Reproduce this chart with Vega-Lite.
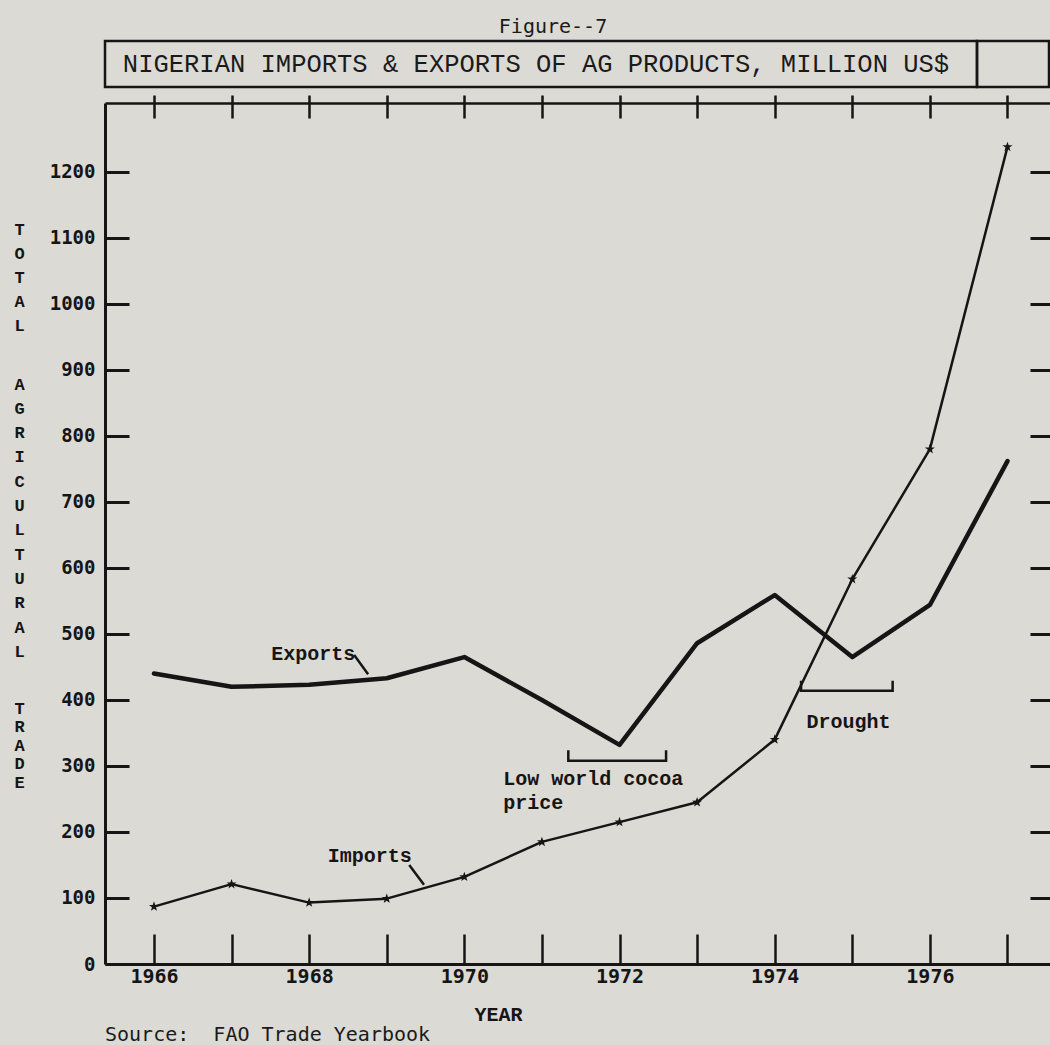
{
  "$schema": "https://vega.github.io/schema/vega-lite/v6.json",
  "background": "#dbdad5",
  "padding": {"left": 13, "top": 15, "right": 0, "bottom": 0},
  "bounds": "full",
  "spacing": 4,
  "config": {
    "view": {"stroke": null},
    "axis": {"grid": false, "labelOverlap": false, "labelFlush": false}
  },
  "datasets": {
    "series": [
      {"series": "Exports", "year": 1966, "value": 440},
      {"series": "Exports", "year": 1967, "value": 420},
      {"series": "Exports", "year": 1968, "value": 423},
      {"series": "Exports", "year": 1969, "value": 433},
      {"series": "Exports", "year": 1970, "value": 465},
      {"series": "Exports", "year": 1971, "value": 400},
      {"series": "Exports", "year": 1972, "value": 332},
      {"series": "Exports", "year": 1973, "value": 486},
      {"series": "Exports", "year": 1974, "value": 559},
      {"series": "Exports", "year": 1975, "value": 465},
      {"series": "Exports", "year": 1976, "value": 544},
      {"series": "Exports", "year": 1977, "value": 762},
      {"series": "Imports", "year": 1966, "value": 87},
      {"series": "Imports", "year": 1967, "value": 121},
      {"series": "Imports", "year": 1968, "value": 93},
      {"series": "Imports", "year": 1969, "value": 99},
      {"series": "Imports", "year": 1970, "value": 132},
      {"series": "Imports", "year": 1971, "value": 185},
      {"series": "Imports", "year": 1972, "value": 215},
      {"series": "Imports", "year": 1973, "value": 245},
      {"series": "Imports", "year": 1974, "value": 340},
      {"series": "Imports", "year": 1975, "value": 583},
      {"series": "Imports", "year": 1976, "value": 780},
      {"series": "Imports", "year": 1977, "value": 1238}
    ],
    "annotLines": [
      {"id": "exLead", "k": 0, "year": 1968.58, "value": 468},
      {"id": "exLead", "k": 1, "year": 1968.76, "value": 439},
      {"id": "imLead", "k": 0, "year": 1969.29, "value": 150},
      {"id": "imLead", "k": 1, "year": 1969.48, "value": 120},
      {"id": "cocoa", "k": 0, "year": 1971.34, "value": 324},
      {"id": "cocoa", "k": 1, "year": 1971.34, "value": 308},
      {"id": "cocoa", "k": 2, "year": 1972.6, "value": 308},
      {"id": "cocoa", "k": 3, "year": 1972.6, "value": 324},
      {"id": "drought", "k": 0, "year": 1974.34, "value": 429},
      {"id": "drought", "k": 1, "year": 1974.34, "value": 414},
      {"id": "drought", "k": 2, "year": 1975.52, "value": 414},
      {"id": "drought", "k": 3, "year": 1975.52, "value": 429}
    ],
    "annotText": [
      {"label": "Exports", "year": 1967.51, "value": 461},
      {"label": "Imports", "year": 1968.24, "value": 155},
      {"label": "Low world cocoa", "year": 1970.5, "value": 271},
      {"label": "price", "year": 1970.5, "value": 235},
      {"label": "Drought", "year": 1974.41, "value": 358}
    ]
  },
  "vconcat": [
    {
      "bounds": "flush",
      "spacing": 0,
      "hconcat": [
        {
          "width": 872,
          "height": 46,
          "view": {"stroke": "#161616", "strokeWidth": 2.5},
          "title": {"text": "Figure--7", "anchor": "middle", "dx": 12, "offset": 4, "font": "DejaVu Sans Mono", "fontSize": 20, "fontWeight": "normal", "color": "#1a1a1a"},
          "data": {"values": [{"t": "NIGERIAN IMPORTS & EXPORTS OF AG PRODUCTS, MILLION US$"}]},
          "mark": {"type": "text", "font": "Liberation Mono", "fontSize": 25.5, "color": "#1a1a1a", "align": "center", "baseline": "middle", "dx": -5},
          "encoding": {"text": {"field": "t", "type": "nominal"}}
        },
        {
          "width": 72,
          "height": 46,
          "view": {"stroke": "#161616", "strokeWidth": 2.5},
          "data": {"values": [{"t": "box"}]},
          "mark": {"type": "rect", "fillOpacity": 0, "strokeOpacity": 0},
          "encoding": {}
        }
      ]
    },
    {
      "width": 945,
      "height": 861,
      "title": {"text": "Source:\u00a0 FAO Trade Yearbook", "orient": "bottom", "anchor": "start", "frame": "group", "offset": 1, "font": "DejaVu Sans Mono", "fontSize": 20, "fontWeight": "normal", "color": "#1a1a1a", "baseline": "top"},
      "resolve": {"axis": {"x": "independent", "y": "independent"}},
      "layer": [
        {
          "data": {"name": "series"},
          "transform": [{"filter": "datum.series === 'Exports'"}],
          "mark": {"type": "line", "color": "#151515", "strokeWidth": 4.5, "strokeCap": "round", "strokeJoin": "round"},
          "encoding": {
            "x": {"field": "year", "type": "quantitative", "scale": {"domain": [1965.369, 1977.548], "nice": false, "zero": false},
              "axis": {"orient": "top", "values": [1966,1967,1968,1969,1970,1971,1972,1973,1974,1975,1976,1977], "labels": false, "tickSize": 8, "tickWidth": 2.5, "tickColor": "#151515", "domainWidth": 2.5, "domainColor": "#151515", "title": null}},
            "y": {"field": "value", "type": "quantitative", "scale": {"domain": [0, 1304.5], "nice": false},
              "axis": {"orient": "left", "values": [0,100,200,300,400,500,600,700,800,900,1000,1100,1200], "format": "d", "tickSize": -24, "tickWidth": 3, "tickColor": "#151515", "domainWidth": 3, "domainColor": "#151515", "labelPadding": 34, "labelFont": "DejaVu Sans Mono", "labelFontSize": 19, "labelFontWeight": "bold", "labelColor": "#151515",
                "title": ["T","O","T","A","L"],
                "titleAngle": 0, "titleAlign": "center", "titleBaseline": "top", "titleX": -86, "titleY": 118, "titleLineHeight": 24, "titleFont": "Liberation Mono", "titleFontSize": 17, "titleFontWeight": "bold", "titleColor": "#151515"}}
          }
        },
        {
          "data": {"name": "series"},
          "transform": [{"filter": "datum.series === 'Imports'"}],
          "mark": {"type": "line", "color": "#151515", "strokeWidth": 2.5, "strokeCap": "round", "strokeJoin": "round"},
          "encoding": {
            "x": {"field": "year", "type": "quantitative", "scale": {"domain": [1965.369, 1977.548], "nice": false, "zero": false},
              "axis": {"orient": "bottom", "values": [1966,1967,1968,1969,1970,1971,1972,1973,1974,1975,1976,1977], "labels": false, "tickSize": -30, "tickWidth": 2.5, "tickColor": "#151515", "domainWidth": 3, "domainColor": "#151515",
                "title": "YEAR", "titleX": 393, "titleY": 50, "titleBaseline": "middle", "titleFont": "Liberation Mono", "titleFontSize": 20, "titleFontWeight": "bold", "titleColor": "#151515"}},
            "y": {"field": "value", "type": "quantitative", "scale": {"domain": [0, 1304.5], "nice": false},
              "axis": {"orient": "right", "values": [0,100,200,300,400,500,600,700,800,900,1000,1100,1200], "labels": false, "domain": false, "tickSize": -20, "tickWidth": 3, "tickColor": "#151515", "title": null}}
          }
        },
        {
          "data": {"name": "series"},
          "transform": [{"filter": "datum.series === 'Imports'"}],
          "mark": {"type": "point", "shape": "M0,-1L0.235,-0.324L0.951,-0.309L0.38,0.124L0.588,0.809L0,0.4L-0.588,0.809L-0.38,0.124L-0.951,-0.309L-0.235,-0.324Z", "filled": true, "color": "#151515", "size": 110, "opacity": 1},
          "encoding": {
            "x": {"field": "year", "type": "quantitative", "scale": {"domain": [1965.369, 1977.548], "nice": false, "zero": false},
              "axis": {"orient": "top", "values": [1966,1967,1968,1969,1970,1971,1972,1973,1974,1975,1976,1977], "labels": false, "domain": false, "tickSize": -15, "tickWidth": 2.5, "tickColor": "#151515", "title": null}},
            "y": {"field": "value", "type": "quantitative", "scale": {"domain": [0, 1304.5], "nice": false},
              "axis": {"orient": "left", "domain": false, "ticks": false, "labels": false,
                "title": ["A","G","R","I","C","U","L","T","U","R","A","L"],
                "titleAngle": 0, "titleAlign": "center", "titleBaseline": "top", "titleX": -86, "titleY": 273, "titleLineHeight": 24.3, "titleFont": "Liberation Mono", "titleFontSize": 17, "titleFontWeight": "bold", "titleColor": "#151515"}}
          }
        },
        {
          "data": {"name": "annotLines"},
          "mark": {"type": "line", "color": "#151515", "strokeWidth": 2.5},
          "encoding": {
            "x": {"field": "year", "type": "quantitative", "scale": {"domain": [1965.369, 1977.548], "nice": false, "zero": false},
              "axis": {"orient": "bottom", "values": [1966,1968,1970,1972,1974,1976], "format": "d", "ticks": false, "tickSize": 0, "domain": false, "labelPadding": 2, "labelBaseline": "top", "labelFont": "DejaVu Sans Mono", "labelFontSize": 20, "labelFontWeight": "bold", "labelColor": "#151515", "title": null}},
            "y": {"field": "value", "type": "quantitative", "scale": {"domain": [0, 1304.5], "nice": false},
              "axis": {"orient": "left", "domain": false, "ticks": false, "labels": false,
                "title": ["T","R","A","D","E"],
                "titleAngle": 0, "titleAlign": "center", "titleBaseline": "top", "titleX": -86, "titleY": 597, "titleLineHeight": 18.5, "titleFont": "Liberation Mono", "titleFontSize": 17, "titleFontWeight": "bold", "titleColor": "#151515"}},
            "detail": {"field": "id", "type": "nominal"},
            "order": {"field": "k", "type": "quantitative"}
          }
        },
        {
          "data": {"name": "annotText"},
          "mark": {"type": "text", "font": "Liberation Mono", "fontSize": 20, "fontWeight": "bold", "color": "#151515", "align": "left", "baseline": "alphabetic"},
          "encoding": {
            "x": {"field": "year", "type": "quantitative", "scale": {"domain": [1965.369, 1977.548], "nice": false, "zero": false}, "axis": null},
            "y": {"field": "value", "type": "quantitative", "scale": {"domain": [0, 1304.5], "nice": false}, "axis": null},
            "text": {"field": "label", "type": "nominal"}
          }
        }
      ]
    }
  ]
}
